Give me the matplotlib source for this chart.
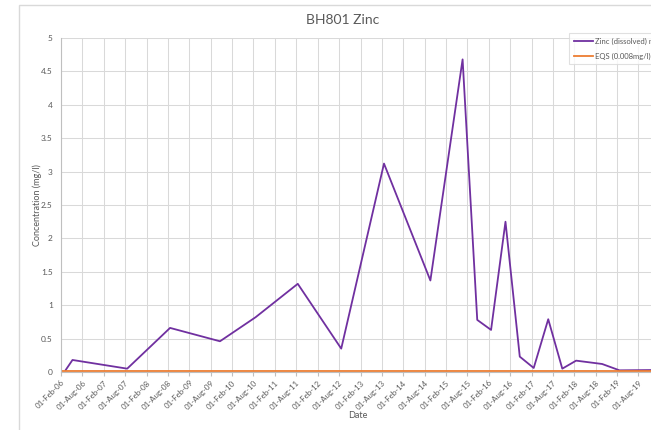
import matplotlib
matplotlib.use("Agg")
import matplotlib.pyplot as plt
import matplotlib.dates as mdates
import pandas as pd
from matplotlib.patches import Rectangle

plt.rcParams["font.family"] = ["Lato", "DejaVu Sans"]

# zinc results (mg/l)
zinc_dates = ["2006-03-13", "2006-05-10", "2007-08-20", "2008-08-20", "2009-10-20",
              "2010-08-20", "2011-08-15", "2012-08-20", "2013-08-20", "2014-09-20",
              "2015-06-22", "2015-10-25", "2016-02-20", "2016-06-22", "2016-10-22",
              "2017-02-18", "2017-06-22", "2017-10-20", "2018-02-15", "2018-09-25",
              "2019-02-20", "2020-01-15"]
zinc_values = [0.03, 0.18, 0.05, 0.66, 0.46,
               0.82, 1.32, 0.35, 3.12, 1.37,
               4.68, 0.78, 0.63, 2.25, 0.23,
               0.06, 0.79, 0.05, 0.17, 0.12,
               0.025, 0.03]
eqs_dates = ["2006-02-01", "2020-02-01"]
eqs_values = [0.008, 0.008]

title = "BH801 Zinc"
zinc_label = "Zinc (dissolved) mg/l"
eqs_label = "EQS (0.008mg/l)"

grey = "#595959"
W, H = 651, 430
fig = plt.figure(figsize=(W / 100, H / 100), dpi=100)

# chart area border (runs off the right and bottom of the image)
fig.patches.append(Rectangle((19 / W, -0.1), 1.0, (H - 5) / H + 0.1, transform=fig.transFigure,
                             fill=False, edgecolor="#d9d9d9", lw=1.0))

x0 = pd.Timestamp("2006-02-01")
x1 = pd.Timestamp("2020-02-01")
ax = fig.add_axes([61 / W, (H - 372) / H, 599 / W, (372 - 38) / H])

ax.plot(pd.to_datetime(zinc_dates), zinc_values, color="#7030A0", lw=1.3, label=zinc_label)
ax.plot(pd.to_datetime(eqs_dates), eqs_values, color="#ED7D31", lw=1.3, label=eqs_label)

ax.set_xlim(x0, x1)
ax.set_ylim(0, 5)
ax.set_yticks([0, 0.5, 1, 1.5, 2, 2.5, 3, 3.5, 4, 4.5, 5])
ax.set_yticklabels(["0", "0.5", "1", "1.5", "2", "2.5", "3", "3.5", "4", "4.5", "5"])
ax.set_xticks(pd.date_range("2006-02-01", "2019-08-01", freq="6MS"))
ax.xaxis.set_major_formatter(mdates.DateFormatter("%d-%b-%y"))

ax.grid(True, color="#d9d9d9", lw=0.75)
ax.set_axisbelow(True)
for s in ["top", "right"]:
    ax.spines[s].set_visible(False)
ax.spines["left"].set_color("#bfbfbf")
ax.spines["bottom"].set_color("#bfbfbf")
ax.tick_params(axis="y", length=0, labelsize=6, labelcolor=grey, pad=6)
ax.tick_params(axis="x", length=3, color="#bfbfbf", labelsize=5.7, labelcolor=grey, pad=2)
for lbl in ax.get_xticklabels():
    lbl.set_rotation(45)
    lbl.set_ha("right")
    lbl.set_rotation_mode("anchor")

fig.text(343 / W, 1 - 20 / H, title, ha="center", va="center", fontsize=10, color=grey)
fig.text(37 / W, 1 - 205 / H, "Concentration (mg/l)", rotation=90, ha="center", va="center",
         fontsize=6.5, color=grey)
fig.text(358 / W, 1 - 416 / H, "Date", ha="center", va="center", fontsize=6.5, color=grey)

leg = fig.legend(loc="upper left", bbox_to_anchor=(569 / W, 1 - 33 / H), fontsize=5.5,
                 frameon=True, fancybox=False, edgecolor="#d9d9d9", handlelength=2.6,
                 handletextpad=0.2, borderpad=0.6, borderaxespad=0, labelspacing=1.0,
                 labelcolor=grey)
leg.get_frame().set_linewidth(0.8)

fig.savefig("out.png", dpi=100)
